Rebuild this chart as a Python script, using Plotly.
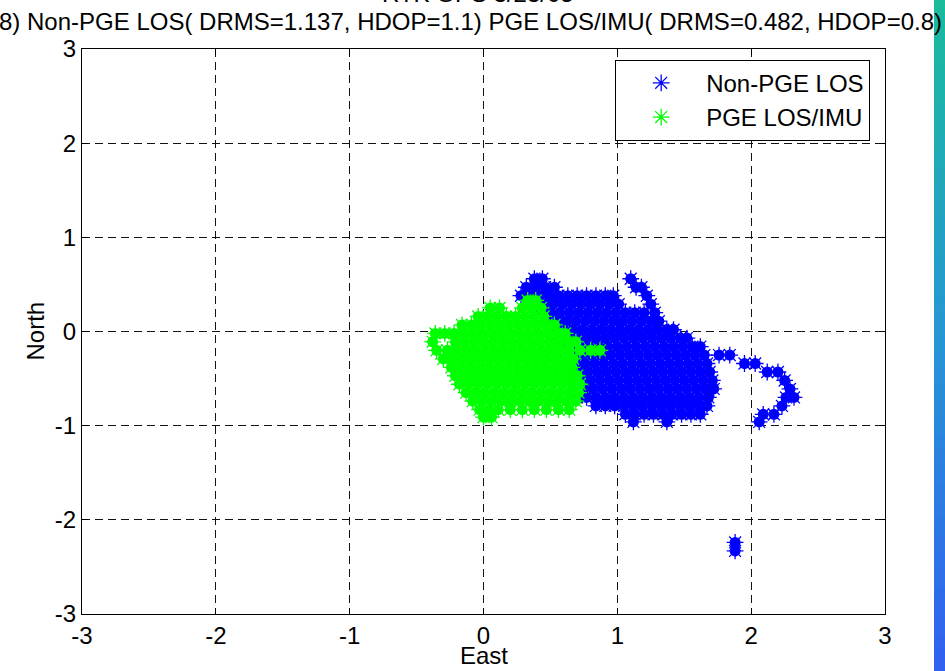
import plotly.graph_objects as go

# ---------------- data (East/North, metres) ----------------
blue_north_levels = [0.56, 0.47, 0.38, 0.29, 0.20, 0.11, 0.02, -0.07, -0.16, -0.25, -0.34,
                     -0.43, -0.52, -0.61, -0.70, -0.79, -0.88, -0.96, -2.24, -2.33]
blue_east_rows = [
    [0.38, 0.44, 1.10],
    [0.32, 0.39, 0.46, 0.53, 1.14, 1.18],
    [0.28, 0.35, 0.42, 0.49, 0.56, 0.63, 0.70, 0.77, 0.84, 0.91, 0.97, 1.22],
    [0.38, 0.45, 0.52, 0.59, 0.66, 0.73, 0.80, 0.87, 0.94, 1.01, 1.25],
    [0.43, 0.50, 0.57, 0.64, 0.71, 0.78, 0.85, 0.92, 0.99, 1.06, 1.13, 1.20, 1.28],
    [0.48, 0.55, 0.62, 0.69, 0.76, 0.83, 0.90, 0.97, 1.04, 1.11, 1.18, 1.25, 1.31],
    [0.53, 0.60, 0.67, 0.74, 0.81, 0.88, 0.95, 1.02, 1.09, 1.16, 1.23, 1.30, 1.37, 1.42],
    [0.56, 0.63, 0.70, 0.77, 0.84, 0.91, 0.98, 1.05, 1.12, 1.19, 1.26, 1.33, 1.40, 1.47, 1.52],
    [0.58, 0.65, 0.72, 0.79, 0.86, 0.93, 1.00, 1.07, 1.14, 1.21, 1.28, 1.35, 1.42, 1.49, 1.56, 1.62],
    [0.60, 0.67, 0.74, 0.81, 0.88, 0.95, 1.02, 1.09, 1.16, 1.23, 1.30, 1.37, 1.44, 1.51, 1.58, 1.65, 1.76, 1.84],
    [0.62, 0.69, 0.76, 0.83, 0.90, 0.97, 1.04, 1.11, 1.18, 1.25, 1.32, 1.39, 1.46, 1.53, 1.60, 1.67, 1.95, 2.03],
    [0.64, 0.71, 0.78, 0.85, 0.92, 0.99, 1.06, 1.13, 1.20, 1.27, 1.34, 1.41, 1.48, 1.55, 1.62, 1.69, 2.12, 2.20],
    [0.66, 0.73, 0.80, 0.87, 0.94, 1.01, 1.08, 1.15, 1.22, 1.29, 1.36, 1.43, 1.50, 1.57, 1.64, 1.71, 2.25],
    [0.68, 0.75, 0.82, 0.89, 0.96, 1.03, 1.10, 1.17, 1.24, 1.31, 1.38, 1.45, 1.52, 1.59, 1.66, 1.72, 2.29],
    [0.70, 0.77, 0.84, 0.91, 0.98, 1.05, 1.12, 1.19, 1.26, 1.33, 1.40, 1.47, 1.54, 1.61, 1.68, 2.32, 2.26],
    [0.84, 0.91, 0.98, 1.05, 1.12, 1.19, 1.26, 1.33, 1.40, 1.47, 1.54, 1.61, 1.67, 2.23],
    [1.06, 1.13, 1.20, 1.27, 1.34, 1.41, 1.48, 1.55, 1.62, 2.17, 2.09],
    [1.12, 1.37, 2.06],
    [1.88],
    [1.88],
]

green_north_levels = [0.33, 0.25, 0.16, 0.07, -0.02, -0.11, -0.20, -0.29, -0.38, -0.47,
                      -0.56, -0.65, -0.74, -0.83, -0.91]
green_east_rows = [
    [0.33, 0.39],
    [0.05, 0.12, 0.29, 0.36, 0.43],
    [-0.04, 0.03, 0.10, 0.17, 0.24, 0.31, 0.38, 0.45],
    [-0.16, -0.09, -0.02, 0.05, 0.12, 0.19, 0.26, 0.33, 0.40, 0.47, 0.53],
    [-0.36, -0.29, -0.22, -0.15, -0.08, -0.01, 0.06, 0.13, 0.20, 0.27, 0.34, 0.41, 0.48, 0.55, 0.61],
    [-0.38, -0.21, -0.14, -0.07, 0.00, 0.07, 0.14, 0.21, 0.28, 0.35, 0.42, 0.49, 0.56, 0.63, 0.69],
    [-0.35, -0.27, -0.20, -0.13, -0.06, 0.01, 0.08, 0.15, 0.22, 0.29, 0.36, 0.43, 0.50, 0.57, 0.64, 0.72, 0.80, 0.87],
    [-0.30, -0.23, -0.16, -0.09, -0.02, 0.05, 0.12, 0.19, 0.26, 0.33, 0.40, 0.47, 0.54, 0.61, 0.67],
    [-0.24, -0.17, -0.10, -0.03, 0.04, 0.11, 0.18, 0.25, 0.32, 0.39, 0.46, 0.53, 0.60, 0.66],
    [-0.21, -0.14, -0.07, 0.00, 0.07, 0.14, 0.21, 0.28, 0.35, 0.42, 0.49, 0.56, 0.63, 0.70],
    [-0.18, -0.11, -0.04, 0.03, 0.10, 0.17, 0.24, 0.31, 0.38, 0.45, 0.52, 0.59, 0.66, 0.72],
    [-0.13, -0.06, 0.01, 0.08, 0.15, 0.22, 0.29, 0.36, 0.43, 0.50, 0.57, 0.64, 0.71],
    [-0.08, -0.01, 0.06, 0.13, 0.20, 0.27, 0.34, 0.41, 0.48, 0.55, 0.62, 0.69],
    [-0.03, 0.04, 0.11, 0.20, 0.29, 0.38, 0.47, 0.56, 0.64],
    [0.00, 0.06],
]

axis_ticks = [-3, -2, -1, 0, 1, 2, 3]
series_names = ["Non-PGE LOS", "PGE LOS/IMU"]
x_title = "East"
y_title = "North"
title_top = "RTK GPS 3/23/05"
title_main = "8) Non-PGE LOS( DRMS=1.137, HDOP=1.1) PGE LOS/IMU( DRMS=0.482, HDOP=0.8)"


def flatten(levels, rows):
    xs, ys = [], []
    for n, row in zip(levels, rows):
        for e in row:
            xs.append(e)
            ys.append(n)
    return xs, ys


bx, by = flatten(blue_north_levels, blue_east_rows)
gx, gy = flatten(green_north_levels, green_east_rows)

FONT = "Liberation Sans, Arial, sans-serif"
FS = 24
BLUE = "#0000ff"
GREEN = "#00ff00"
TXT = dict(family=FONT, size=FS, color="black")

fig = go.Figure()
for xs, ys, col, name in [(bx, by, BLUE, series_names[0]), (gx, gy, GREEN, series_names[1])]:
    fig.add_trace(go.Scatter(x=xs, y=ys, mode="markers", showlegend=False, hoverinfo="skip",
                             marker=dict(symbol="circle", size=11, color=col, line=dict(width=0))))
    fig.add_trace(go.Scatter(x=xs, y=ys, mode="markers", name=name,
                             marker=dict(symbol="asterisk-open", size=14, color=col,
                                         line=dict(width=1.3, color=col))))

axis_common = dict(range=[-3, 3], tickvals=axis_ticks, ticktext=[str(t) for t in axis_ticks],
                   showgrid=True, gridcolor="#111111", griddash="8px,5px", gridwidth=1,
                   zeroline=False, showline=True, linecolor="black", linewidth=1.2, mirror="ticks",
                   ticks="inside", ticklen=6, tickcolor="black", automargin=False,
                   tickfont=TXT)

fig.update_layout(
    width=945, height=671,
    margin=dict(l=82, r=60, t=49, b=57, autoexpand=False),
    paper_bgcolor="white", plot_bgcolor="white",
    xaxis=dict(**axis_common),
    yaxis=dict(**axis_common),
    legend=dict(x=0.664, y=0.981, xanchor="left", yanchor="top", bgcolor="white",
                bordercolor="black", borderwidth=1, itemwidth=80, font=TXT),
    showlegend=True,
)

fig.add_annotation(text=x_title, xref="paper", yref="paper", x=0.5, y=-0.0735,
                   xanchor="center", yanchor="middle", showarrow=False, font=TXT)
fig.add_annotation(text=y_title, xref="paper", yref="paper", x=-0.0585, y=0.5, textangle=-90,
                   xanchor="center", yanchor="middle", showarrow=False, font=TXT)
fig.add_annotation(text=title_main, xref="paper", yref="paper", x=0.4844, y=1.0478,
                   xanchor="center", yanchor="middle", showarrow=False, font=TXT)
fig.add_annotation(text=title_top, xref="paper", yref="paper", x=0.4931, y=1.099,
                   xanchor="center", yanchor="middle", showarrow=False, font=TXT)

# decorative gradient strip at the right edge of the page
stops = [(0.0, (26, 188, 156)), (0.5, (38, 150, 212)), (1.0, (50, 96, 240))]
n = 40
y_bot, y_top = -57 / 565, 614 / 565
for i in range(n):
    t = (i + 0.5) / n
    for (t0, c0), (t1, c1) in zip(stops[:-1], stops[1:]):
        if t0 <= t <= t1:
            f = (t - t0) / (t1 - t0)
            c = tuple(round(a + (b - a) * f) for a, b in zip(c0, c1))
            break
    ya = y_top - (y_top - y_bot) * i / n
    yb = y_top - (y_top - y_bot) * (i + 1) / n
    fig.add_shape(type="rect", xref="paper", yref="paper", x0=852 / 803, x1=880 / 803,
                  y0=yb - 0.002, y1=ya + 0.002, line=dict(width=0),
                  fillcolor="rgb(%d,%d,%d)" % c, layer="above")

fig.write_html("out.html")
